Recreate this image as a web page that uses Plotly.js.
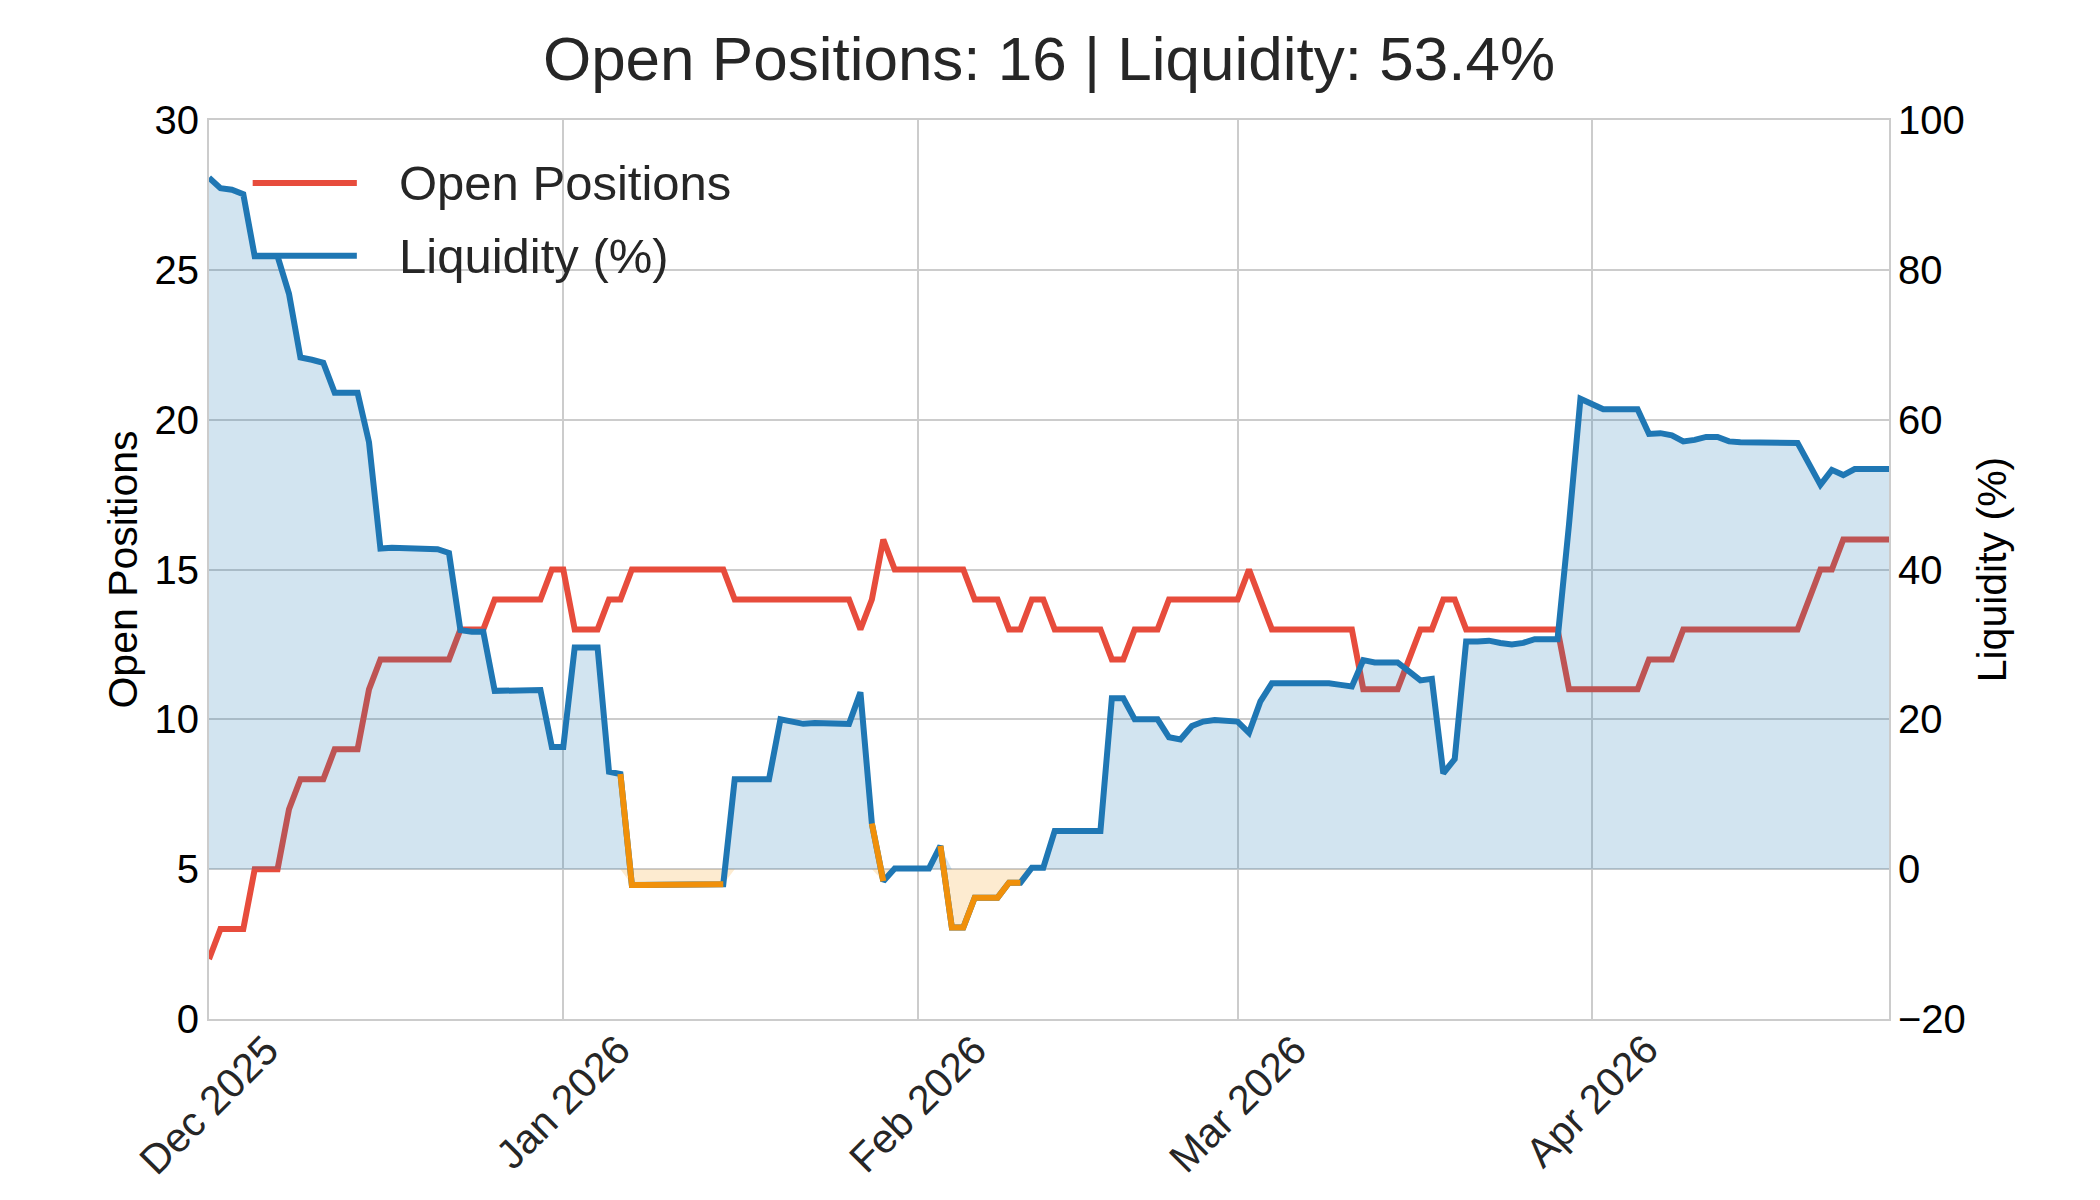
<!DOCTYPE html>
<html>
<head>
<meta charset="utf-8">
<script src="https://cdn.plot.ly/plotly-3.0.1.min.js"></script>
<style>
  html, body { margin: 0; padding: 0; background: #ffffff; }
  #chart { width: 2100px; height: 1200px; }
</style>
</head>
<body>
<div id="chart"></div>
<script>
// Daily portfolio snapshot: open positions (left axis) vs liquidity % (right axis).
const START_DATE = "2025-12-01";

const OPEN_POSITIONS = [
  2, 3, 3, 3, 5, 5, 5, 7, 8, 8, 8, 9, 9, 9, 11, 12, 12, 12, 12, 12, 12, 12, 13, 13, 13,
  14, 14, 14, 14, 14, 15, 15, 13, 13, 13, 14, 14, 15, 15, 15, 15, 15, 15, 15, 15, 15,
  14, 14, 14, 14, 14, 14, 14, 14, 14, 14, 14, 13, 14, 16, 15, 15, 15, 15, 15, 15, 15,
  14, 14, 14, 13, 13, 14, 14, 13, 13, 13, 13, 13, 12, 12, 13, 13, 13, 14, 14, 14, 14,
  14, 14, 14, 15, 14, 13, 13, 13, 13, 13, 13, 13, 13, 11, 11, 11, 11, 12, 13, 13, 14,
  14, 13, 13, 13, 13, 13, 13, 13, 13, 13, 11, 11, 11, 11, 11, 11, 11, 12, 12, 12, 13,
  13, 13, 13, 13, 13, 13, 13, 13, 13, 13, 14, 15, 15, 16, 16, 16, 16, 16,
];

const LIQUIDITY_PCT = [
  92.3, 90.9, 90.7, 90.1, 81.8, 81.8, 81.8, 76.8, 68.3, 68.0, 67.6, 63.6, 63.6, 63.6,
  57.0, 42.8, 42.9, 42.8, 42.7, 42.7, 42.7, 42.2, 31.9, 31.7, 31.7, 23.8, 23.8, 23.8,
  23.9, 23.9, 16.3, 16.3, 29.6, 29.6, 29.6, 13.0, 12.7, -2.1, -2.1, -2.1, -2.1, -2.0,
  -2.0, -2.0, -2.0, -2.0, 12.0, 12.0, 12.0, 12.0, 20.0, 19.6, 19.4, 19.5, 19.5, 19.5,
  19.4, 23.6, 6.1, -1.6, 0.1, 0.1, 0.1, 0.1, 3.1, -7.8, -7.8, -3.8, -3.8, -3.8, -1.8,
  -1.8, 0.2, 0.2, 5.1, 5.1, 5.1, 5.1, 5.1, 22.8, 22.8, 20.0, 20.0, 20.0, 17.6, 17.3,
  19.1, 19.7, 19.9, 19.8, 19.7, 18.2, 22.4, 24.8, 24.8, 25.0, 25.0, 25.0, 24.8, 24.6,
  24.4, 27.9, 27.6, 27.6, 27.6, 26.4, 25.2, 25.4, 12.8, 14.7, 30.4, 30.4, 30.5, 30.2,
  30.0, 30.2, 30.7, 30.7, 30.7, 46.0, 62.8, 62.1, 61.4, 61.4, 61.4, 61.4, 58.1, 58.2,
  57.9, 57.1, 57.3, 57.7, 57.7, 57.1, 57.0, 57.0, 56.9, 56.9, 56.9, 56.9, 54.1, 51.3,
  53.3, 52.6, 53.4, 53.4, 53.4, 53.4,
];

const TICK_DATES = ["2025-12-01", "2026-01-01", "2026-02-01", "2026-03-01", "2026-04-01"];
const TICK_LABELS = ["Dec 2025", "Jan 2026", "Feb 2026", "Mar 2026", "Apr 2026"];
const LEFT_TICKS = [0, 5, 10, 15, 20, 25, 30];
const RIGHT_TICKS = [-20, 0, 20, 40, 60, 80, 100];

const RED = "#e74c3c";
const BLUE = "#1f77b4";
const ORANGE = "#f0900a";
const GRID = "#cccccc";
const TEXT = "#262626";
const FONT = "Liberation Sans, Arial, Helvetica, sans-serif";
const LINE_W = 6;

function dayString(offset) {
  const d = new Date(START_DATE + "T00:00:00Z");
  d.setUTCDate(d.getUTCDate() + offset);
  return d.toISOString().slice(0, 10);
}
const dates = OPEN_POSITIONS.map((_, i) => dayString(i));

// negative stretches get the orange treatment; the point leading into one is kept
const orangeLine = LIQUIDITY_PCT.map((v, i) =>
  v < 0 || (i + 1 < LIQUIDITY_PCT.length && LIQUIDITY_PCT[i + 1] < 0) ? v : null);
const positiveFill = LIQUIDITY_PCT.map((v) => Math.max(v, 0));
const negativeFill = LIQUIDITY_PCT.map((v) => Math.min(v, 0));

const data = [
  {
    type: "scatter", mode: "lines", name: "Open Positions",
    x: dates, y: OPEN_POSITIONS, yaxis: "y",
    line: { color: RED, width: LINE_W }, hoverinfo: "skip",
  },
  {
    type: "scatter", mode: "lines", x: dates, y: positiveFill, yaxis: "y2",
    fill: "tozeroy", fillcolor: "rgba(31,119,180,0.2)", line: { width: 0 },
    showlegend: false, hoverinfo: "skip",
  },
  {
    type: "scatter", mode: "lines", x: dates, y: negativeFill, yaxis: "y2",
    fill: "tozeroy", fillcolor: "rgba(243,156,18,0.2)", line: { width: 0 },
    showlegend: false, hoverinfo: "skip",
  },
  {
    type: "scatter", mode: "lines", name: "Liquidity (%)",
    x: dates, y: LIQUIDITY_PCT, yaxis: "y2",
    line: { color: BLUE, width: LINE_W }, hoverinfo: "skip",
  },
  {
    type: "scatter", mode: "lines", x: dates, y: orangeLine, yaxis: "y2",
    line: { color: ORANGE, width: LINE_W }, connectgaps: false,
    showlegend: false, hoverinfo: "skip",
  },
];

// month labels, rotated and centred on their gridline
const annotations = TICK_DATES.map((d, i) => ({
  x: d, xref: "x", y: -0.005, yref: "paper",
  text: TICK_LABELS[i], textangle: -45, showarrow: false,
  xanchor: "center", yanchor: "top",
  font: { family: FONT, size: 41, color: TEXT },
}));

// legend drawn by hand so the key lines are as long as the original
const legendRows = [
  { label: "Open Positions", color: RED, y: 0.930 },
  { label: "Liquidity (%)", color: BLUE, y: 0.849 },
];
const shapes = legendRows.map((row) => ({
  type: "line", xref: "paper", yref: "paper",
  x0: 0.026, x1: 0.088, y0: row.y, y1: row.y,
  line: { color: row.color, width: LINE_W },
}));
legendRows.forEach((row) => annotations.push({
  x: 0.112, xref: "paper", y: row.y, yref: "paper",
  text: row.label, showarrow: false, xanchor: "left", yanchor: "middle",
  font: { family: FONT, size: 49, color: TEXT },
}));

const lastPos = OPEN_POSITIONS[OPEN_POSITIONS.length - 1];
const lastLiq = LIQUIDITY_PCT[LIQUIDITY_PCT.length - 1];

const layout = {
  width: 2100, height: 1200,
  paper_bgcolor: "#ffffff", plot_bgcolor: "#ffffff",
  font: { family: FONT, color: TEXT },
  margin: { l: 209, r: 211, t: 120, b: 181 },
  showlegend: false,
  title: {
    text: `Open Positions: ${lastPos} | Liquidity: ${lastLiq.toFixed(1)}%`,
    x: 0.5, xref: "paper", y: 1 - 58 / 1200, yanchor: "middle",
    font: { family: FONT, size: 62, color: TEXT },
  },
  xaxis: {
    type: "date", range: [dates[0], dates[dates.length - 1]],
    tickmode: "array", tickvals: TICK_DATES, showticklabels: false,
    showgrid: true, gridcolor: GRID, gridwidth: 2,
    showline: true, linecolor: GRID, linewidth: 2, mirror: true,
    zeroline: false, ticks: "",
  },
  yaxis: {
    range: [0, 30], tickmode: "array", tickvals: LEFT_TICKS,
    showgrid: true, gridcolor: GRID, gridwidth: 2,
    showline: true, linecolor: GRID, linewidth: 2, mirror: true,
    zeroline: false, ticks: "", ticklabelstandoff: 0,
    tickfont: { family: FONT, size: 40, color: "#000000" },
    title: { text: "Open Positions", standoff: 4, font: { family: FONT, size: 41, color: "#000000" } },
  },
  yaxis2: {
    range: [-20, 100], overlaying: "y", side: "right",
    tickmode: "array", tickvals: RIGHT_TICKS,
    showgrid: false, zeroline: false, showline: false, ticks: "",
    ticklabelstandoff: 8,
    tickfont: { family: FONT, size: 40, color: "#000000" },
    title: { text: "Liquidity (%)", standoff: 12, font: { family: FONT, size: 41, color: "#000000" } },
  },
  shapes,
  annotations,
};

Plotly.newPlot("chart", data, layout, { staticPlot: true });
</script>
</body>
</html>
